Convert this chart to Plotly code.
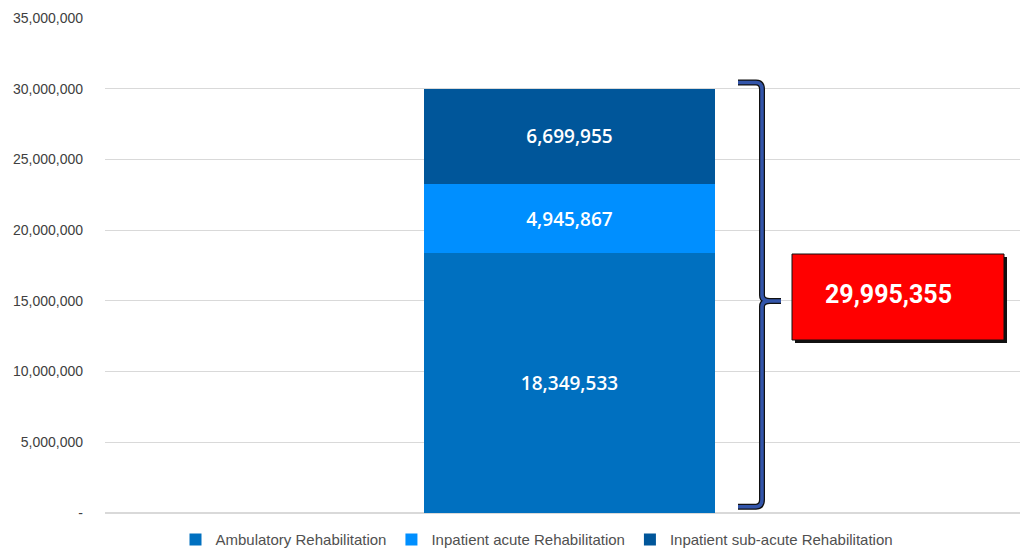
import plotly.graph_objects as go

category = ["Total"]
series_names = ["Ambulatory Rehabilitation", "Inpatient acute Rehabilitation", "Inpatient sub-acute Rehabilitation"]
ambulatory = [18349533]
inpatient_acute = [4945867]
inpatient_subacute = [6699955]
colors = ["#0070C0", "#008FFF", "#00569A"]
tick_vals = [0, 5000000, 10000000, 15000000, 20000000, 25000000, 30000000, 35000000]
tick_text = ["-", "5,000,000", "10,000,000", "15,000,000", "20,000,000", "25,000,000", "30,000,000", "35,000,000"]

total = ambulatory[0] + inpatient_acute[0] + inpatient_subacute[0]

fig = go.Figure()
for name, vals, col in zip(series_names, [ambulatory, inpatient_acute, inpatient_subacute], colors):
    fig.add_trace(go.Bar(
        x=[0], y=vals, name=name, marker=dict(color=col, line=dict(width=0)),
        width=0.636,
        text=[f"{v:,}" for v in vals], textposition="inside", insidetextanchor="middle",
        textfont=dict(color="white", size=19, family="Open Sans", weight=600),
        hoverinfo="skip",
    ))

# brace (decoration) in paper x / data y
def px(p):
    return (p - 105) / 915.0

top = total + 0.45e6
bot = 0.45e6
mid = total / 2
d = 0.5e6
xl, xv, xt = px(738), px(762), px(781)
xc = px(756)
path = (f"M {xl},{top} L {xc},{top} Q {xv},{top} {xv},{top-d} "
        f"L {xv},{mid+d*0.8} Q {xv},{mid} {px(770)},{mid} L {xt},{mid} "
        f"M {px(770)},{mid} Q {xv},{mid} {xv},{mid-d*0.8} "
        f"L {xv},{bot+d} Q {xv},{bot} {xc},{bot} L {xl},{bot}")
fig.add_shape(type="path", path=path, xref="paper", yref="y",
              line=dict(color="#111111", width=6), layer="above")
fig.add_shape(type="path", path=path, xref="paper", yref="y",
              line=dict(color="#3355AA", width=3.5), layer="above")

# red total box with shadow
fig.add_shape(type="rect", xref="paper", yref="paper",
              x0=px(795), x1=px(1007), y0=(513-343)/495, y1=(513-257)/495,
              fillcolor="#111111", line=dict(width=0), layer="above")
fig.add_shape(type="rect", xref="paper", yref="paper",
              x0=px(792), x1=px(1004), y0=(513-340)/495, y1=(513-254)/495,
              fillcolor="#FF0000", line=dict(color="#111111", width=1), layer="above")
fig.add_annotation(xref="paper", yref="paper", x=px(888), y=(513-294)/495,
                   xanchor="center", yanchor="middle",
                   text=f"{total:,}", showarrow=False,
                   font=dict(family="Roboto", size=25, color="white", weight="bold"))

fig.update_layout(
    width=1023, height=548,
    margin=dict(l=105, r=3, t=18, b=35, autoexpand=False),
    paper_bgcolor="white", plot_bgcolor="white",
    barmode="stack",
    showlegend=True,
    legend=dict(orientation="h", x=px(537), xanchor="center", y=-0.054, yanchor="middle",
                font=dict(family="Liberation Sans", size=15, color="#505050"),
                itemwidth=30, traceorder="normal"),
    xaxis=dict(range=[-1.0153, 0.9847], showticklabels=False, showgrid=False, zeroline=False, fixedrange=True),
    yaxis=dict(range=[0, 35000000], tickvals=tick_vals, ticktext=tick_text,
               showgrid=True, gridcolor="#D9D9D9", gridwidth=1, zeroline=True, zerolinecolor="#D9D9D9",
               tickfont=dict(family="Liberation Sans", size=14, color="#404040"),
               ticklabelstandoff=21),
    uniformtext=dict(mode="show", minsize=10),
)

fig.write_html("out.html")
